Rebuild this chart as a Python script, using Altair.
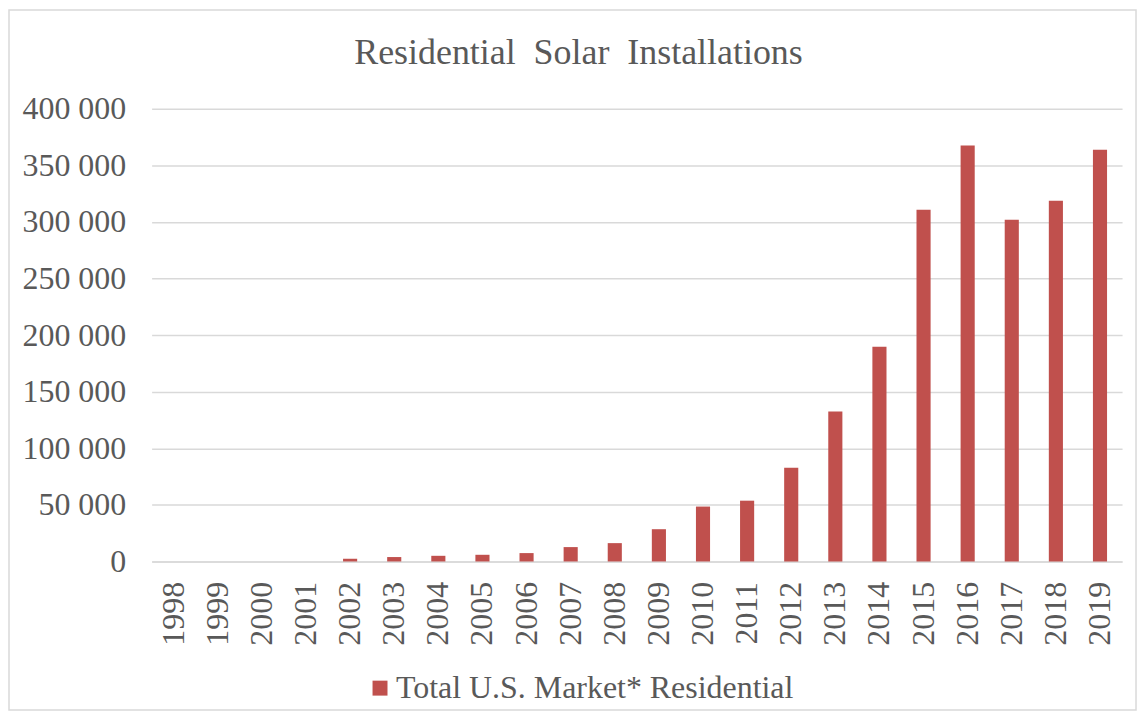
import altair as alt
import pandas as pd

years = [str(y) for y in range(1998, 2020)]
installs = [0, 0, 0, 0, 2400, 3900, 5000, 5900, 7400, 12700, 16200, 28500,
            48500, 53700, 82800, 132400, 189700, 310700, 367400, 301900, 318700, 363600]
series_name = "Total U.S. Market* Residential"
title_text = "Residential\u00a0\u00a0Solar\u00a0\u00a0Installations"

df = pd.DataFrame({"year": years, "value": installs, "series": [series_name] * len(years)})

FONT = "Liberation Serif"
GRAY = "#595959"
GRID = "#d9d9d9"

bars = alt.Chart(df).mark_bar(color="#C0504D").encode(
    x=alt.X("year:N", sort=years,
            scale=alt.Scale(paddingInner=0.68, paddingOuter=0.34),
            axis=alt.Axis(title=None, labelAngle=-90, labelFontSize=32, labelFont=FONT,
                          labelColor=GRAY, labelPadding=20, ticks=False,
                          domainColor=GRID, domainWidth=1.5)),
    y=alt.Y("value:Q", scale=alt.Scale(domain=[0, 400000], nice=False),
            axis=alt.Axis(title=None, values=list(range(0, 400001, 50000)),
                          labelExpr="replace(format(datum.value, ','), ',', ' ')",
                          labelFontSize=32, labelFont=FONT, labelColor=GRAY,
                          labelPadding=26, ticks=False, domain=False,
                          gridColor=GRID, gridWidth=1.5)),
    color=alt.Color("series:N", scale=alt.Scale(range=["#C0504D"]),
                    legend=alt.Legend(title=None, orient="none", legendX=213, legendY=565,
                                      symbolType="square", symbolSize=225, symbolStrokeWidth=0,
                                      labelFontSize=32, labelFont=FONT, labelColor=GRAY,
                                      labelOffset=0, labelLimit=600)),
)

frame = alt.Chart(pd.DataFrame({"f": [0]})).mark_rect(
    fill=None, stroke=GRID, strokeWidth=1.5
).encode(
    x=alt.value(-143), x2=alt.value(973 + 14),
    y=alt.value(-99), y2=alt.value(454 + 149),
)

title = alt.Chart(pd.DataFrame({"t": [title_text]})).mark_text(
    font=FONT, fontSize=36, color=GRAY, align="center", baseline="alphabetic"
).encode(
    text="t:N", x=alt.value(428), y=alt.value(-45),
)

chart = alt.layer(frame, bars, title).properties(
    width=973, height=454,
    autosize=alt.AutoSizeParams(type="none"),
    padding={"left": 144, "top": 100, "right": 18, "bottom": 151},
).configure_view(stroke=None)

chart.save("out.html", embed_options={"renderer": "svg", "actions": False})
